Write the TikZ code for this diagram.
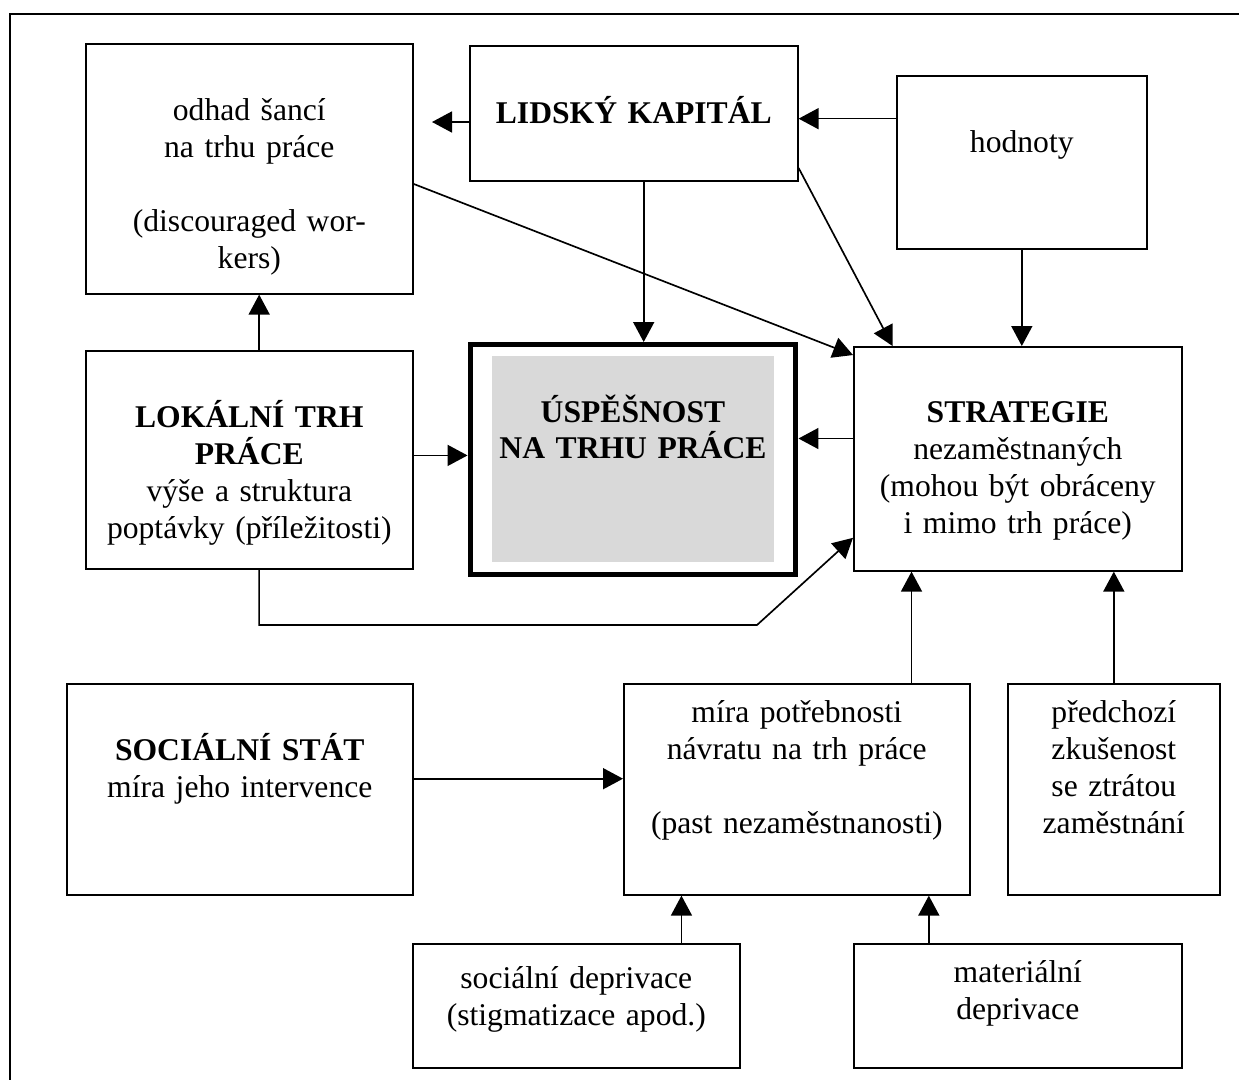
\documentclass[tikz,border=0pt]{standalone}
\usepackage{fontspec}
\setmainfont{Liberation Serif}
\usetikzlibrary{arrows.meta,calc}
\begin{document}
\begin{tikzpicture}[x=0.02cm,y=-0.02cm,
  box/.style={draw,line width=0.95pt,anchor=north west,inner sep=0pt,align=center,font=\fontsize{18}{21}\selectfont},
  arr/.style={line width=0.95pt,-{Triangle[length=0.4cm,width=0.42cm]}}]
\useasboundingbox (0,0) rectangle (1239,1079);
\draw[line width=1.3pt] (10,1090) -- (10,14) -- (1250,14);

\node[box,text width=6.54cm,text height=1.54cm,text depth=3.46cm] (odhad) at (85,43)
  {odhad šancí\\na trhu práce\\[21pt](discouraged wor-\\kers)};
\node[box,text width=6.56cm,text height=1.56cm,text depth=1.14cm] (lidsky) at (469,45)
  {\textbf{LIDSKÝ KAPITÁL}};
\node[box,text width=5cm,text height=1.54cm,text depth=1.92cm] (hodnoty) at (896,75)
  {hodnoty};
\node[box,text width=6.54cm,text height=1.54cm,text depth=2.82cm] (lokalni) at (85,350)
  {\textbf{LOKÁLNÍ TRH}\\\textbf{PRÁCE}\\výše a struktura\\poptávky (příležitosti)};

\fill[gray!30] (492,356) rectangle (774,562);
\node[box,anchor=center,line width=0.1cm,text width=6.52cm,text height=1.55cm,text depth=3.05cm] (uspech) at (633,459.5)
  {\textbf{ÚSPĚŠNOST}\\\textbf{NA TRHU PRÁCE}};

\node[box,text width=6.56cm,text height=1.52cm,text depth=2.96cm] (strategie) at (853,346)
  {\textbf{STRATEGIE}\\nezaměstnaných\\(mohou být obráceny\\i mimo trh práce)};
\node[box,text width=6.92cm,text height=1.54cm,text depth=2.68cm] (stat) at (66,683)
  {\textbf{SOCIÁLNÍ STÁT}\\míra jeho intervence};
\node[box,text width=6.92cm,text height=0.78cm,text depth=3.44cm] (potreba) at (623,683)
  {míra potřebnosti\\návratu na trh práce\\[21pt](past nezaměstnanosti)};
\node[box,text width=4.24cm,text height=0.78cm,text depth=3.44cm] (zkusenost) at (1007,683)
  {předchozí\\zkušenost\\se ztrátou\\zaměstnání};
\node[box,text width=6.54cm,text height=0.9cm,text depth=1.58cm] (socdep) at (412,943)
  {sociální deprivace\\(stigmatizace apod.)};
\node[box,text width=6.56cm,text height=0.78cm,text depth=1.7cm] (matdep) at (853,943)
  {materiální\\deprivace};

\coordinate (sance) at (432,122);
\draw[arr] (lidsky.west |- sance) -- (sance);
\coordinate (hod) at ($(hodnoty.north west)!0.25!(hodnoty.south west)$);
\draw[arr] (hod) -- (hod -| lidsky.east);
\coordinate (kap) at ($(lidsky.south west)!0.53!(lidsky.south east)$);
\draw[arr] (kap) -- (kap |- uspech.north);
\draw[arr] ($(lidsky.north east)!0.9!(lidsky.south east)$) -- ($(strategie.north west)!0.12!(strategie.north east)$);
\draw[arr] ($(odhad.north east)!0.56!(odhad.south east)$) -- ($(strategie.north west)!0.04!(strategie.south west)$);
\draw[arr] (hodnoty.south) -- (hodnoty.south |- strategie.north);

\coordinate (trh) at ($(lokalni.north west)!0.53!(lokalni.north east)$);
\draw[arr] (trh) -- (trh |- odhad.south);
\coordinate (trh2) at ($(lokalni.north east)!0.48!(lokalni.south east)$);
\draw[arr] (trh2) -- (trh2 -| uspech.west);
\coordinate (str) at ($(strategie.north west)!0.41!(strategie.south west)$);
\draw[arr] (str) -- (str -| uspech.east);
\coordinate (zlom) at (757,625);
\draw[arr] ($(lokalni.south west)!0.53!(lokalni.south east)$) |- (zlom) -- ($(strategie.north west)!0.85!(strategie.south west)$);

\coordinate (pot) at ($(potreba.north west)!0.83!(potreba.north east)$);
\draw[arr] (pot) -- (pot |- strategie.south);
\draw[arr] (zkusenost.north) -- (zkusenost.north |- strategie.south);
\coordinate (sst) at ($(stat.north east)!0.45!(stat.south east)$);
\draw[arr] (sst) -- (sst -| potreba.west);
\coordinate (dep1) at ($(socdep.north west)!0.82!(socdep.north east)$);
\draw[arr] (dep1) -- (dep1 |- potreba.south);
\coordinate (dep2) at ($(matdep.north west)!0.23!(matdep.north east)$);
\draw[arr] (dep2) -- (dep2 |- potreba.south);
\end{tikzpicture}
\end{document}
